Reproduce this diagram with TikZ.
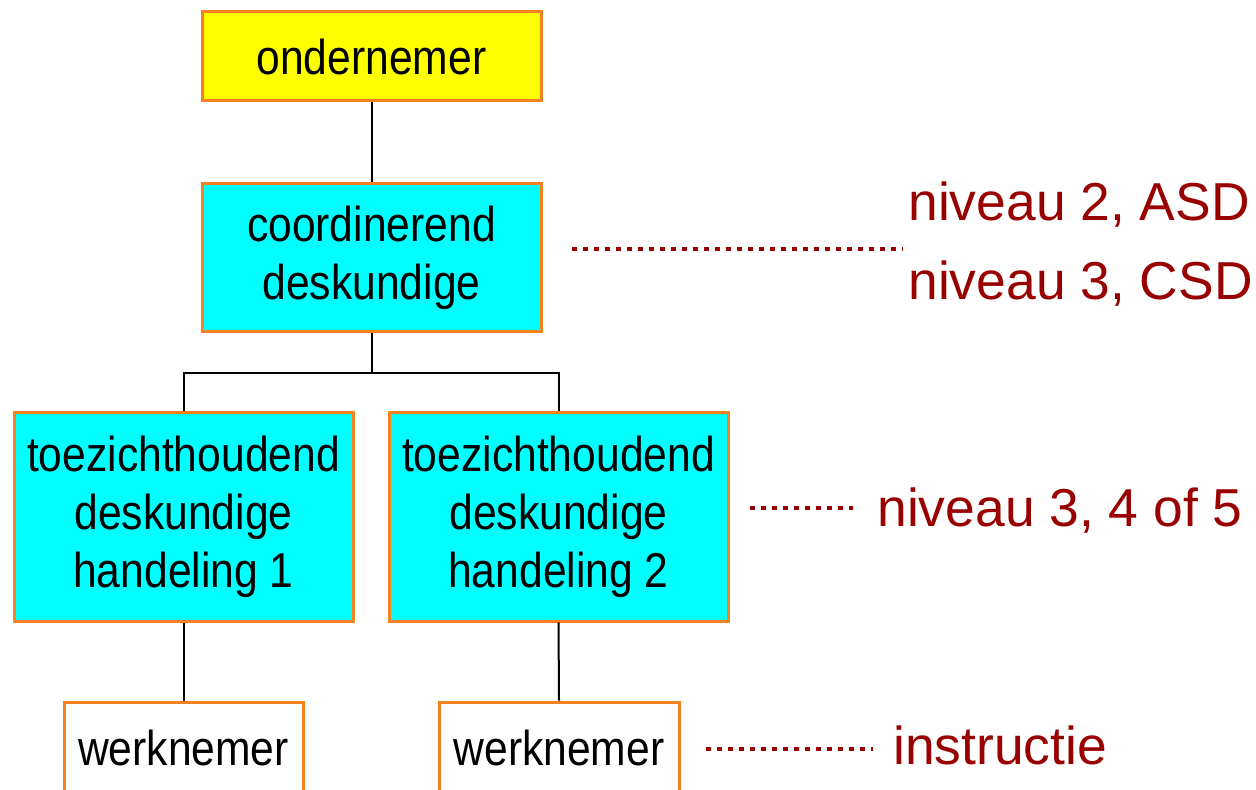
\documentclass[tikz,border=0pt]{standalone}
\usepackage{fontspec}
\setmainfont{Liberation Sans}
\newfontfamily\boxfont[FakeStretch=0.87]{Liberation Sans}
\definecolor{boxorange}{RGB}{245,130,32}
\definecolor{levelred}{RGB}{153,0,0}
\definecolor{boxcyan}{RGB}{0,255,255}
\definecolor{boxyellow}{RGB}{255,255,0}
\begin{document}
\begin{tikzpicture}[x=0.5pt,y=-0.5pt,
  rolebox/.style={draw=boxorange, line width=1.5pt, minimum width=169.5pt, inner sep=0pt,
    align=center, font=\boxfont\fontsize{24.5}{29}\selectfont},
  link/.style={draw, line width=1pt},
  levelline/.style={draw=levelred, line width=2.4pt, dash pattern=on 2.4pt off 3.1pt},
  leveltext/.style={levelred, inner sep=0pt, anchor=base west, font=\fontsize{26.7}{30}\selectfont}]
\useasboundingbox (0,0) rectangle (1256,790);

\node[rolebox, fill=boxyellow, minimum height=44.5pt] (owner) at (371.5,56.5) {ondernemer};
\node[rolebox, fill=boxcyan, minimum height=74pt] (coord) at (371.5,258) {coordinerend\\deskundige};
\node[rolebox, fill=boxcyan, minimum height=104pt] (sup1) at (183.5,517) {toezichthoudend\\deskundige\\handeling 1};
\node[rolebox, fill=boxcyan, minimum height=104pt] (sup2) at (558.5,517) {toezichthoudend\\deskundige\\handeling 2};
\node[rolebox, fill=white, minimum width=119.5pt, minimum height=46pt] (work1) at (183.5,748) {werknemer};
\node[rolebox, fill=white, minimum width=120pt, minimum height=46pt] (work2) at (559,748) {werknemer};

\coordinate (split) at (371.5,373);
\path[link] (owner) -- (coord);
\path[link] (coord) -- (split);
\path[link] (sup1.north) |- (split) -| (sup2.north);
\path[link] (sup1.south) -- (work1.north);
\path[link] (sup2.south) -- (work2.north);

% niveaus
\coordinate (d1a) at (572,249);
\coordinate (d1b) at (903,249);
\coordinate (d2a) at (750,508);
\coordinate (d2b) at (853,508);
\coordinate (d3a) at (706,749);
\coordinate (d3b) at (873,749);
\path[levelline] (d1a) -- (d1b);
\path[levelline] (d2a) -- (d2b);
\path[levelline] (d3a) -- (d3b);

\node[leveltext] (asd) at (908,221) {niveau 2, ASD};
\node[leveltext] (csd) at (908,300) {niveau 3, CSD};
\node[leveltext] (lvl345) at (877,526) {niveau 3, 4 of 5};
\node[leveltext] (instr) at (893,764) {instructie};

\end{tikzpicture}
\end{document}
